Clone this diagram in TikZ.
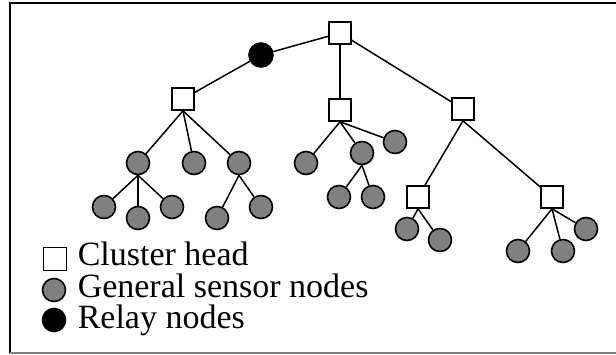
\documentclass[tikz,border=0pt]{standalone}
\usepackage{fontspec}
\setmainfont{Liberation Serif}
\usepackage{tikz}
\usetikzlibrary{positioning}
\tikzset{ch/.style = {draw, fill=white, inner sep = 0, minimum size = 22, line width = 1.6},
         sn/.style = {draw, fill=gray, circle, inner sep = 0, minimum width = 23, minimum height = 22, line width = 1.6},
         rn/.style = {draw, fill=black, circle, inner sep = 0, minimum width = 24, minimum height = 23, line width = 1.6},
         lbl/.style = {anchor = base west, inner sep = 0, font = \fontsize{34}{38}\selectfont}}

\begin{document}
\begin{tikzpicture}[x=1pt, y=-1pt, line width=1.5]
    \useasboundingbox (0, 0) rectangle (616, 354);
    \draw [line width=1.4] (620, 3) -- (10, 3) -- (10, 353);
    \draw [line width=1.4, gray] (10, 353) -- (620, 353);

    % heads and relay
    \node [ch] (root) at (340, 33) {};
    \node [rn] (relay) at (261, 55) {};
    \node [ch] (chA) at (183, 99) {};
    \node [ch] (chB) at (340, 110) {};
    \node [ch] (chC) at (463, 109) {};
    \node [ch] (chD) at (418, 197) {};
    \node [ch] (chE) at (552, 197) {};

    % sensor nodes
    \node [sn] (a1) at (138, 163) {};
    \node [sn] (a2) at (194, 163) {};
    \node [sn] (a3) at (239, 163) {};
    \node [sn] (a11) at (104, 207) {};
    \node [sn] (a12) at (138, 218) {};
    \node [sn] (a13) at (172, 207) {};
    \node [sn] (a31) at (217, 218) {};
    \node [sn] (a32) at (261, 207) {};

    \node [sn] (b1) at (306, 163) {};
    \node [sn] (b2) at (362, 153) {};
    \node [sn] (b3) at (395, 142) {};
    \node [sn] (b21) at (339, 197) {};
    \node [sn] (b22) at (373, 197) {};

    \node [sn] (d1) at (407, 229) {};
    \node [sn] (d2) at (440, 240) {};
    \node [sn] (e1) at (518, 251) {};
    \node [sn] (e2) at (563, 251) {};
    \node [sn] (e3) at (586, 229) {};

    \draw (root) -- (relay) -- (chA);
    \draw (root) -- (chB);
    \draw (root) -- (chC);
    \draw (chA.south) -- (a1); \draw (chA.south) -- (a2); \draw (chA.south) -- (a3);
    \draw (a1.south) -- (a11); \draw (a1.south) -- (a12); \draw (a1.south) -- (a13);
    \draw (a3.south) -- (a31); \draw (a3.south) -- (a32);
    \draw (chB.south) -- (b1); \draw (chB.south) -- (b2); \draw (chB.south) -- (b3);
    \draw (b2.south) -- (b21); \draw (b2.south) -- (b22);
    \draw (chC.south) -- (chD); \draw (chC.south) -- (chE);
    \draw (chD.south) -- (d1); \draw (chD.south) -- (d2);
    \draw (chE.south) -- (e1); \draw (chE.south) -- (e2); \draw (chE.south) -- (e3);

    % legend
    \node [ch, minimum size = 23] (keyCH) at (55, 259) {};
    \node [sn] (keySN) at (54, 290) {};
    \node [rn, minimum width = 23, minimum height = 23] (keyRN) at (54, 320) {};
    \node [lbl] (txtCH) at (77, 265) {Cluster head};
    \node [lbl] (txtSN) at (77, 297) {General sensor nodes};
    \node [lbl] (txtRN) at (77, 328) {Relay nodes};
  \end{tikzpicture}
\end{document}
